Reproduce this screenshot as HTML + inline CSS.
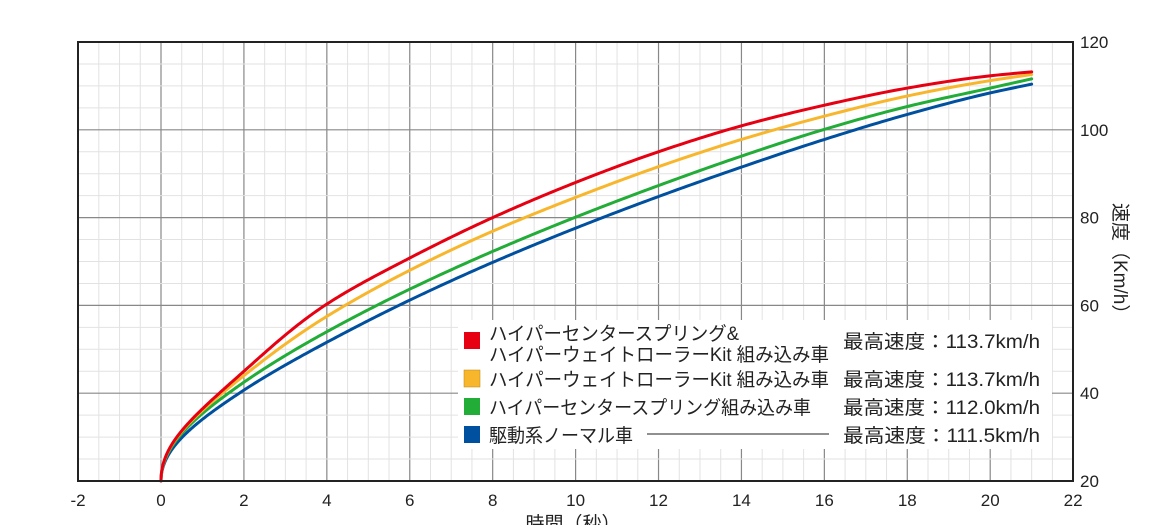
<!DOCTYPE html><html><head><meta charset="utf-8"><style>
body{margin:0;background:#fff;width:1151px;height:525px;overflow:hidden;font-family:"Liberation Sans","Noto Sans CJK JP",sans-serif}
</style></head><body>
<svg id="s" width="1151" height="525" xmlns="http://www.w3.org/2000/svg" font-family="Liberation Sans, Noto Sans CJK JP, sans-serif">
<g id="grid"></g>
<g id="curves" fill="none" stroke-width="3" stroke-linecap="round"></g>
<rect x="458" y="320" width="594" height="129" fill="#fff"/>
<g font-size="19" fill="#222">
<rect x="464" y="332" width="16" height="17" fill="#e60012"/>
<text x="489" y="340" textLength="250" lengthAdjust="spacingAndGlyphs">ハイパーセンタースプリング&amp;</text>
<text x="489" y="361" textLength="340" lengthAdjust="spacingAndGlyphs">ハイパーウェイトローラーKit 組み込み車</text>
<text x="843" y="348" textLength="197" lengthAdjust="spacingAndGlyphs">最高速度：113.7km/h</text>
<rect x="464" y="370" width="16" height="17" fill="#f8b62d" stroke="#b8860b" stroke-width="0.5"/>
<text x="489" y="386" textLength="340" lengthAdjust="spacingAndGlyphs">ハイパーウェイトローラーKit 組み込み車</text>
<text x="843" y="386" textLength="197" lengthAdjust="spacingAndGlyphs">最高速度：113.7km/h</text>
<rect x="464" y="398" width="16" height="17" fill="#22ac38"/>
<text x="489" y="414" textLength="322" lengthAdjust="spacingAndGlyphs">ハイパーセンタースプリング組み込み車</text>
<text x="843" y="414" textLength="197" lengthAdjust="spacingAndGlyphs">最高速度：112.0km/h</text>
<rect x="464" y="426" width="16" height="17" fill="#0050a0"/>
<text x="489" y="442" textLength="144" lengthAdjust="spacingAndGlyphs">駆動系ノーマル車</text>
<line x1="647" y1="434" x2="829" y2="434" stroke="#222" stroke-width="1"/>
<text x="843" y="442" textLength="197" lengthAdjust="spacingAndGlyphs">最高速度：111.5km/h</text>
</g>
<rect x="78" y="42" width="995" height="439" fill="none" stroke="#222" stroke-width="2"/>
<g id="labels" font-size="17" fill="#222"></g>
<text x="1114" y="203" font-size="19" fill="#222" transform="rotate(90 1114 203)">速度（Km/h）</text>
<text x="573" y="530" font-size="19" fill="#222" text-anchor="middle">時間（秒）</text>
</svg>
<script>
var NS="http://www.w3.org/2000/svg";
function X(t){return 161+t*41.46}
function Y(v){return 481-(v-20)*4.39}
function el(p,tag,a,txt){var e=document.createElementNS(NS,tag);for(var k in a)e.setAttribute(k,a[k]);if(txt!=null)e.textContent=txt;p.appendChild(e);return e}
var g=document.getElementById('grid');
for(var t=-2;t<=22;t+=0.5){var maj=(t%2===0);el(g,'line',{x1:X(t),x2:X(t),y1:42,y2:481,stroke:maj?'#888':'#e2e2e2','stroke-width':maj?1.2:1})}
for(var v=20;v<=120;v+=5){var maj=(v%20===0);el(g,'line',{x1:78,x2:1073,y1:Y(v),y2:Y(v),stroke:maj?'#888':'#e2e2e2','stroke-width':maj?1.2:1})}
var L=document.getElementById('labels');
for(var t=-2;t<=22;t+=2)el(L,'text',{x:X(t),y:506,'text-anchor':'middle'},t);
for(var v=20;v<=120;v+=20)el(L,'text',{x:1080,y:Y(v)+6},v);
var ts=[0,2,4,6,8,10,12,14,16,18,20,21];
var D={
'#0050a0':[20,40.7,51.6,61.2,69.8,77.6,84.8,91.5,97.8,103.5,108.4,110.4],
'#22ac38':[20,42.5,54,63.7,72.3,80.1,87.3,94,100.1,105.3,109.5,111.6],
'#f8b62d':[20,44,57.5,68,76.9,84.6,91.6,97.8,103.1,107.7,111.2,112.6],
'#e60012':[20,45,60.3,70.8,80,88,95,100.9,105.6,109.5,112.3,113.2]};
function interp(xs,ys){var n=xs.length,m=[],dl=[];for(var i=0;i<n-1;i++)dl.push((ys[i+1]-ys[i])/(xs[i+1]-xs[i]));
m[0]=dl[0];m[n-1]=dl[n-2];for(var i=1;i<n-1;i++){var h0=xs[i]-xs[i-1],h1=xs[i+1]-xs[i];m[i]=(dl[i-1]*h1+dl[i]*h0)/(h0+h1);}
return function(x){var i=0;while(i<n-2&&x>xs[i+1])i++;var h=xs[i+1]-xs[i],s=(x-xs[i])/h,s2=s*s,s3=s2*s;
return (2*s3-3*s2+1)*ys[i]+(s3-2*s2+s)*h*m[i]+(-2*s3+3*s2)*ys[i+1]+(s3-s2)*h*m[i+1];}}
var us=ts.map(Math.sqrt);
var C=document.getElementById('curves');
for(var col in D){var f=interp(us,D[col]);var d='';
for(var k=0;k<=400;k++){var u=Math.sqrt(21)*k/400;var t=u*u;d+=(k?'L':'M')+X(t).toFixed(2)+','+Y(f(u)).toFixed(2);}
el(C,'path',{d:d,stroke:col});}
</script>
</body></html>
